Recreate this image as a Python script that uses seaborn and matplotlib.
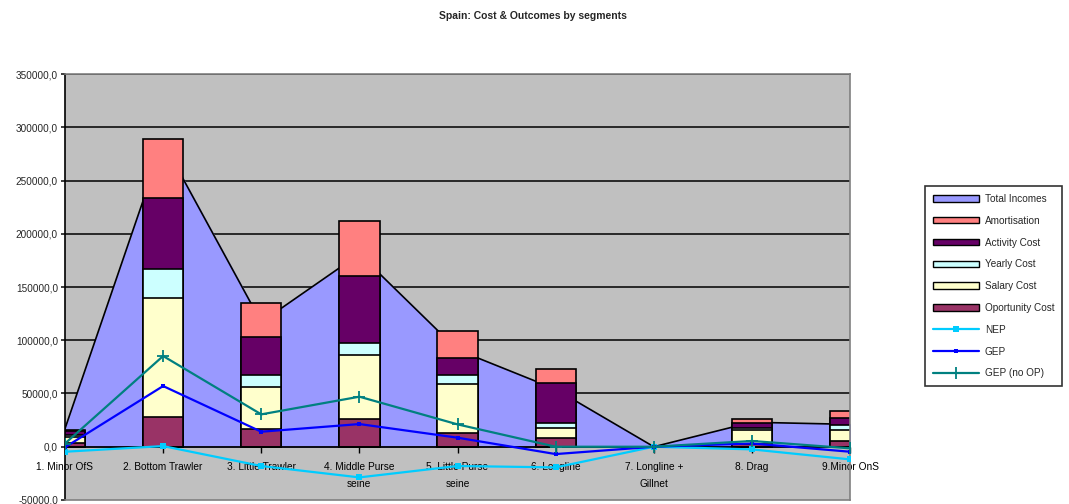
import numpy as np
import pandas as pd
import matplotlib
matplotlib.use('Agg')
import matplotlib.pyplot as plt
import seaborn as sns
from matplotlib.patches import Patch
from matplotlib.lines import Line2D
from matplotlib.ticker import FuncFormatter, MultipleLocator

# Data
segments = ['1. Minor OfS', '2. Bottom Trawler', '3. Little Trawler', '4. Middle Purse\nseine',
            '5. Little Purse\nseine', '6. Longline', '7. Longline +\nGillnet', '8. Drag', '9.Minor OnS']
total_incomes = [17000, 286000, 117000, 181000, 91000, 54000, 0, 23000, 21000]
oportunity_cost = [3500, 28000, 17000, 26500, 13000, 8000, 0, 2500, 5500]
salary_cost = [6000, 111500, 39000, 60000, 45500, 9500, 0, 13500, 10000]
yearly_cost = [1500, 27500, 11000, 10500, 9000, 5000, 0, 1500, 4500]
activity_cost = [3500, 66500, 36000, 63000, 15500, 37500, 0, 4500, 7000]
amortisation = [1500, 56000, 32000, 52000, 26000, 13000, 0, 4500, 6500]
nep = [-4700, 600, -18100, -28800, -18100, -19400, 0, -2500, -11900]
gep = [-500, 57000, 14100, 21300, 8500, -6900, 0, 3100, -4700]
gep_no_op = [3000, 85200, 30400, 47000, 21000, 0, 0, 5400, -1500]

df = pd.DataFrame({
    'segment': segments,
    'Oportunity Cost': oportunity_cost,
    'Salary Cost': salary_cost,
    'Yearly Cost': yearly_cost,
    'Activity Cost': activity_cost,
    'Amortisation': amortisation,
})
x = np.arange(len(segments))

stack_order = ['Oportunity Cost', 'Salary Cost', 'Yearly Cost', 'Activity Cost', 'Amortisation']
colors = {
    'Total Incomes': '#9999FF',
    'Amortisation': '#FF8080',
    'Activity Cost': '#660066',
    'Yearly Cost': '#CCFFFF',
    'Salary Cost': '#FFFFCC',
    'Oportunity Cost': '#993366',
}

sns.set_theme(style='white')
plt.rcParams['font.family'] = ['Liberation Sans', 'DejaVu Sans']

fig = plt.figure(figsize=(10.69, 5.04), dpi=100)
ax = fig.add_axes([0.0608, 0.008, 0.7344, 0.845])
ax.set_facecolor('#C0C0C0')

# gridlines
for v in range(50000, 350001, 50000):
    ax.axhline(v, color='black', lw=1.1, zorder=0.5)

# Total incomes area
ax.fill_between(x, 0, total_incomes, color=colors['Total Incomes'], zorder=1)
ax.plot(x, total_incomes, color='black', lw=1.2, zorder=1.1)

# stacked bars: draw cumulative sums from tallest to shortest
cum = df[stack_order].cumsum(axis=1)
for name in reversed(stack_order):
    sns.barplot(x=x, y=cum[name].values, color=colors[name], width=0.41,
                edgecolor='black', linewidth=1.2, saturation=1, ax=ax, zorder=2,
                native_scale=True)

ax.axhline(0, color='black', lw=1.3, zorder=2.5)

# outcome lines
ax.plot(x, nep, color='#00CCFF', lw=1.6, marker='s', ms=4, markeredgewidth=0, zorder=3)
ax.plot(x, gep, color='#0000FF', lw=1.6, marker='s', ms=3.5, markeredgewidth=0, zorder=3.1)
ax.plot(x, gep_no_op, color='#008080', lw=1.6, marker='+', ms=9, markeredgewidth=1.3, zorder=3.2)

ax.set_xlim(0, len(segments) - 1)
ax.set_ylim(-50000, 350000)
ax.yaxis.set_major_locator(MultipleLocator(50000))
ax.yaxis.set_major_formatter(FuncFormatter(lambda v, p: f'{v:.1f}'.replace('.', ',')))
ax.tick_params(axis='y', labelsize=7.2, length=3, direction='out', left=True, pad=2)
ax.set_xticks([])
ax.set_xlabel('')
ax.set_ylabel('')

for side in ['top', 'right', 'bottom']:
    ax.spines[side].set_color('#808080')
    ax.spines[side].set_linewidth(1.2)
ax.spines['left'].set_color('black')
ax.spines['left'].set_linewidth(1.2)

# category axis sits on the zero line
sec = ax.secondary_xaxis(50000 / 400000)
sec.set_xticks(x)
sec.set_xticklabels(segments, fontsize=7.3, linespacing=1.9)
sec.tick_params(axis='x', length=4, width=1, direction='out', pad=7, colors='black')
sec.spines['bottom'].set_visible(False)

fig.text(0.499, 0.968, 'Spain: Cost & Outcomes by segments', fontsize=7.5,
         fontweight='bold', ha='center', va='center')

handles = [
    Patch(facecolor=colors['Total Incomes'], edgecolor='black', label='Total Incomes'),
    Patch(facecolor=colors['Amortisation'], edgecolor='black', label='Amortisation'),
    Patch(facecolor=colors['Activity Cost'], edgecolor='black', label='Activity Cost'),
    Patch(facecolor=colors['Yearly Cost'], edgecolor='black', label='Yearly Cost'),
    Patch(facecolor=colors['Salary Cost'], edgecolor='black', label='Salary Cost'),
    Patch(facecolor=colors['Oportunity Cost'], edgecolor='black', label='Oportunity Cost'),
    Line2D([], [], color='#00CCFF', lw=1.6, marker='s', ms=4, markeredgewidth=0, label='NEP'),
    Line2D([], [], color='#0000FF', lw=1.6, marker='s', ms=3.5, markeredgewidth=0, label='GEP'),
    Line2D([], [], color='#008080', lw=1.6, marker='+', ms=9, markeredgewidth=1.3, label='GEP (no OP)'),
]
leg = fig.legend(handles=handles, loc='upper left', bbox_to_anchor=(0.865, 0.631),
                 borderaxespad=0, fontsize=7.2, frameon=True, fancybox=False,
                 edgecolor='black', handlelength=4.6, handleheight=0.6, labelspacing=1.18,
                 borderpad=0.8, handletextpad=0.6, markerscale=1)
leg.get_frame().set_linewidth(1.2)

fig.savefig('out.png', dpi=100)
